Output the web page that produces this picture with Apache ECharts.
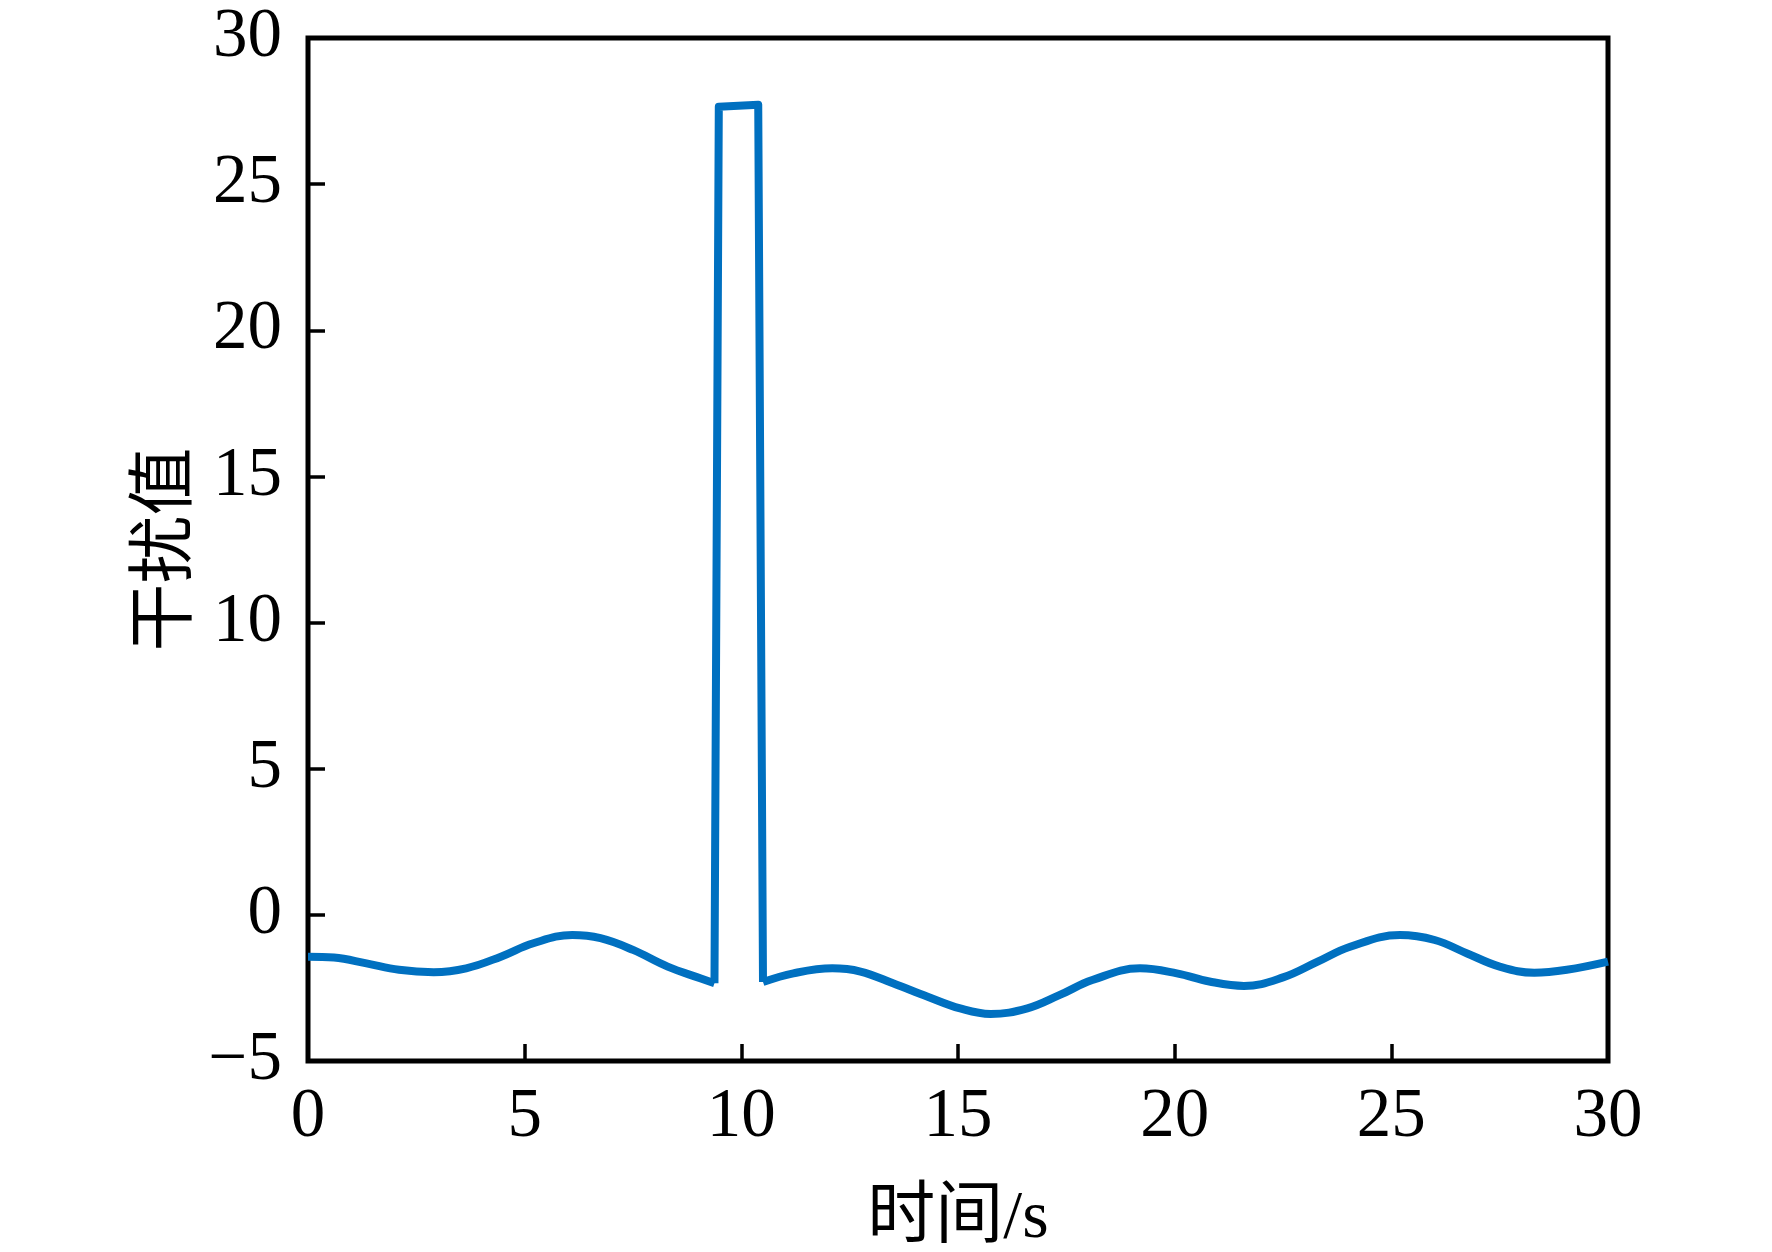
<!DOCTYPE html>
<html>
<head>
<meta charset="utf-8">
<script src="https://cdn.jsdelivr.net/npm/echarts@6/dist/echarts.min.js"></script>
<style>
html,body{margin:0;padding:0;background:#fff;}
#chart{width:1772px;height:1252px;}
</style>
</head>
<body>
<div id="chart"></div>
<script>
// Time axis (s) and disturbance values
const preTime   = [0, 0.6, 1.35, 2.1, 2.9, 3.65, 4.45, 5.2, 6.1, 6.75, 7.5, 8.3, 9.05, 9.38];
const preValue  = [-1.43, -1.46, -1.66, -1.88, -1.96, -1.83, -1.43, -0.97, -0.69, -0.80, -1.20, -1.77, -2.17, -2.34];
const spikeTime  = [9.38, 9.48, 10.39, 10.5];
const spikeValue = [-2.34, 27.65, 27.72, -2.3];
const postTime  = [10.5, 11.2, 12.1, 12.75, 13.5, 14.3, 15.05, 15.75, 16.6, 17.35, 18.1, 19.2, 20.05, 20.8, 21.6, 22.5, 23.3, 24.05, 25.2, 26.0, 26.75, 27.5, 28.3, 29.05, 30];
const postValue = [-2.3, -2.0, -1.83, -1.94, -2.34, -2.80, -3.20, -3.39, -3.20, -2.74, -2.23, -1.83, -2.0, -2.28, -2.43, -2.14, -1.60, -1.09, -0.69, -0.86, -1.32, -1.77, -1.98, -1.88, -1.60];
const xTicks = [0, 5, 10, 15, 20, 25, 30];
const yTicks = [-5, 0, 5, 10, 15, 20, 25, 30];
const xName = '时间/s';
const yName = '干扰值';

const pairs = (xs, ys) => xs.map((x, i) => [x, ys[i]]);
const numFont = "Liberation Serif";
const nameFont = "Liberation Serif, Noto Sans CJK SC";
const lineColor = '#0070c0';

const chart = echarts.init(document.getElementById('chart'), null, {renderer: 'canvas'});
chart.setOption({
  backgroundColor: '#fff',
  animation: false,
  grid: {left: 308, top: 38, right: 164, bottom: 191, show: true, borderColor: '#000', borderWidth: 5,
    backgroundColor: 'transparent', containLabel: false, outerBoundsMode: 'none'},
  xAxis: {
    type: 'value', min: xTicks[0], max: xTicks[xTicks.length - 1], interval: 5,
    axisLine: {show: false, onZero: false},
    axisTick: {show: true, inside: true, length: 17, lineStyle: {color: '#000', width: 3.5}},
    splitLine: {show: false},
    axisLabel: {color: '#000', fontFamily: numFont, fontSize: 69, margin: 22},
    name: xName, nameLocation: 'middle', nameGap: 124, nameMoveOverlap: false,
    nameTextStyle: {color: '#000', fontFamily: nameFont, fontSize: 68}
  },
  yAxis: {
    type: 'value', min: yTicks[0], max: yTicks[yTicks.length - 1], interval: 5,
    axisLine: {show: false, onZero: false},
    axisTick: {show: true, inside: true, length: 17, lineStyle: {color: '#000', width: 3.5}},
    splitLine: {show: false},
    axisLabel: {color: '#000', fontFamily: numFont, fontSize: 69, margin: 26,
      formatter: v => String(v).replace('-', '\u2212')},
    name: yName, nameLocation: 'middle', nameGap: 140, nameMoveOverlap: false,
    nameTextStyle: {color: '#000', fontFamily: nameFont, fontSize: 68, verticalAlign: 'middle'}
  },
  series: [
    {type: 'line', data: pairs(preTime, preValue), smooth: 0.4, showSymbol: false, lineStyle: {color: lineColor, width: 8}, z: 3},
    {type: 'line', data: pairs(spikeTime, spikeValue), smooth: false, showSymbol: false, lineStyle: {color: lineColor, width: 8, join: 'round'}, z: 3},
    {type: 'line', data: pairs(postTime, postValue), smooth: 0.4, showSymbol: false, lineStyle: {color: lineColor, width: 8}, z: 3}
  ]
});
</script>
</body>
</html>
